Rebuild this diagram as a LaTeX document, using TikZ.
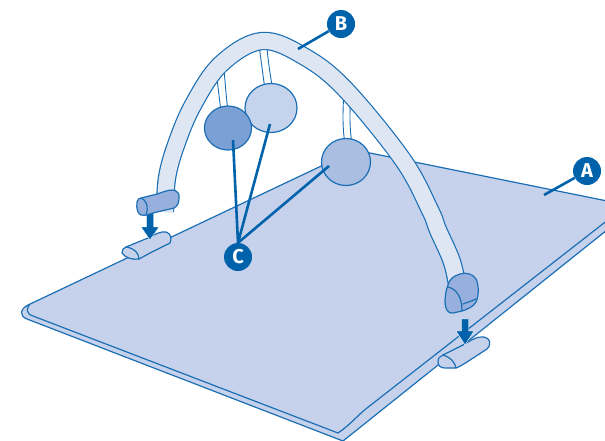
\documentclass[tikz,border=0pt]{standalone}
\usepackage{fontspec}
\newfontfamily\labelfont{Fira Sans}
\definecolor{edge}{HTML}{1A6EB4}
\definecolor{matfill}{HTML}{C6D2EC}
\definecolor{archfill}{HTML}{DEE6F4}
\definecolor{capfill}{HTML}{96AFDC}
\definecolor{balldark}{HTML}{7BA0D4}
\definecolor{balllight}{HTML}{C6D3EC}
\definecolor{ballmid}{HTML}{AABEE2}
\definecolor{tag}{HTML}{0062AB}
\begin{document}
\begin{tikzpicture}[x=1pt,y=-1pt,
  outline/.style={draw=edge, line width=1.2pt, line join=round, line cap=round},
  stringband/.style={draw=edge, line width=0.9pt, fill=white},
  pointer/.style={draw=tag, line width=2.6pt},
  tagdot/.style={circle, fill=tag, text=white, minimum size=28pt, inner sep=0pt,
    font=\labelfont\bfseries\fontsize{20}{20}\selectfont},
  droparrow/.style={fill=tag, draw=white, line width=0.4pt}]
\useasboundingbox (0,0) rectangle (605,440);
\clip (0,0) rectangle (605,440);

% play mat: body, lower rim and top face
\path[fill=matfill] (355,150) -- (28,305) .. controls (20,309) and (19,316) .. (27,319)
  -- (343,441) -- (637,206) -- (627,205) -- cycle;
\draw[outline] (355,150) -- (28,305) .. controls (20,309) and (19,316) .. (27,319)
  -- (343,441) -- (637,206);
\draw[outline] (30,304) .. controls (26,308) and (26,314) .. (33,316) -- (338,433)
  .. controls (350,425) and (358,415) .. (367,408) -- (627,205) -- (355,150);

% clips on the mat edge
\draw[outline, fill=matfill] (122,253) .. controls (122,250) and (123,248) .. (126,247)
  -- (148,238) .. controls (156,234) and (161,231) .. (166,232)
  .. controls (171,233) and (172,239) .. (170,243) -- (150,253) -- (139,259)
  .. controls (133,260) and (125,258) .. (122,253) -- cycle;
\draw[outline] (126,247) .. controls (134,248) and (139,253) .. (139,259);
\draw[outline, fill=matfill] (438,362) .. controls (438,358) and (440,356) .. (443,355)
  -- (463,345) .. controls (471,340) and (478,336) .. (484,337)
  .. controls (490,338) and (492,344) .. (487,349) -- (467,362)
  .. controls (462,365) and (459,367) .. (456,368) -- (445,368)
  .. controls (441,368) and (438,366) .. (438,362) -- cycle;
\draw[outline] (443,355) .. controls (450,357) and (455,362) .. (456,368);

% downward arrows
\draw[droparrow] (146.5,213) -- (153.5,213) -- (153.5,227) -- (159,227) -- (150,240)
  -- (141,227) -- (146.5,227) -- cycle;
\draw[droparrow] (461.5,319) -- (468.5,319) -- (468.5,331) -- (474,331) -- (465,345)
  -- (456,331) -- (461.5,331) -- cycle;

% hanging strings
\draw[stringband] (221,112) .. controls (219,95) and (217,80) .. (215,58) -- (223,58)
  .. controls (225,80) and (226,95) .. (228,112) -- cycle;
\draw[stringband] (265,90) .. controls (263,75) and (261,60) .. (258,38) -- (266,38)
  .. controls (268,60) and (270,75) .. (273,90) -- cycle;
\draw[stringband] (345,144) .. controls (342,125) and (343,110) .. (344,88) -- (351,88)
  .. controls (350,110) and (349,125) .. (352,144) -- cycle;

% arch
\draw[draw=edge, line width=1.2pt, double=archfill, double distance=16pt]
  plot[smooth, tension=0.6] coordinates {(165,212) (167,178) (176,145) (193,105)
  (221,64) (262,41) (305,57) (346,90) (403,160) (430,210) (438,230) (452,262) (458,290)};

% end caps of the arch
\draw[outline, fill=capfill] (137,202) .. controls (138,199) and (139,198) .. (141,198)
  -- (157,194) .. controls (163,192) and (168,190) .. (172,190)
  .. controls (177,190) and (180,194) .. (179,198) .. controls (179,202) and (178,206) .. (174,208)
  -- (153,213) .. controls (149,214) and (146,216) .. (141,215)
  .. controls (138,214) and (136,209) .. (137,202) -- cycle;
\draw[outline] (141,198) .. controls (146,200) and (149,206) .. (146,215);
\draw[outline, fill=capfill] (448,285) .. controls (449,280) and (453,276) .. (460,274)
  .. controls (466,272) and (473,274) .. (476,279) .. controls (479,285) and (479,296) .. (476,302)
  .. controls (473,307) and (468,309) .. (462,311) -- (453,313)
  .. controls (448,314) and (445,309) .. (445,302) .. controls (445,296) and (446,290) .. (448,285) -- cycle;
\draw[outline] (448,287) .. controls (456,289) and (462,296) .. (462,311);
\draw[outline] (463,304) .. controls (468,302) and (472,301) .. (476,299);

% toys
\draw[outline, fill=balllight] (271,108) ellipse [x radius=26, y radius=24.5];
\draw[outline, fill=balldark] (228,128) ellipse [x radius=23.5, y radius=22];
\draw[outline, fill=ballmid] (346,162) ellipse [x radius=24.5, y radius=23.5];

% callouts
\coordinate (matpt) at (544,195);
\coordinate (archpt) at (298,49);
\coordinate (toy1) at (233,140);
\coordinate (toy2) at (270,124);
\coordinate (toy3) at (329,166);
\node[tagdot] (A) at (587,171) {A};
\node[tagdot] (B) at (341,24) {B};
\node[tagdot] (C) at (238,257) {C};
\draw[pointer] (A) -- (matpt);
\draw[pointer] (B) -- (archpt);
\draw[pointer] (C.north) -- (toy1);
\draw[pointer] (C.north) -- (toy2);
\draw[pointer] (C.north) -- (toy3);
\end{tikzpicture}
\end{document}
